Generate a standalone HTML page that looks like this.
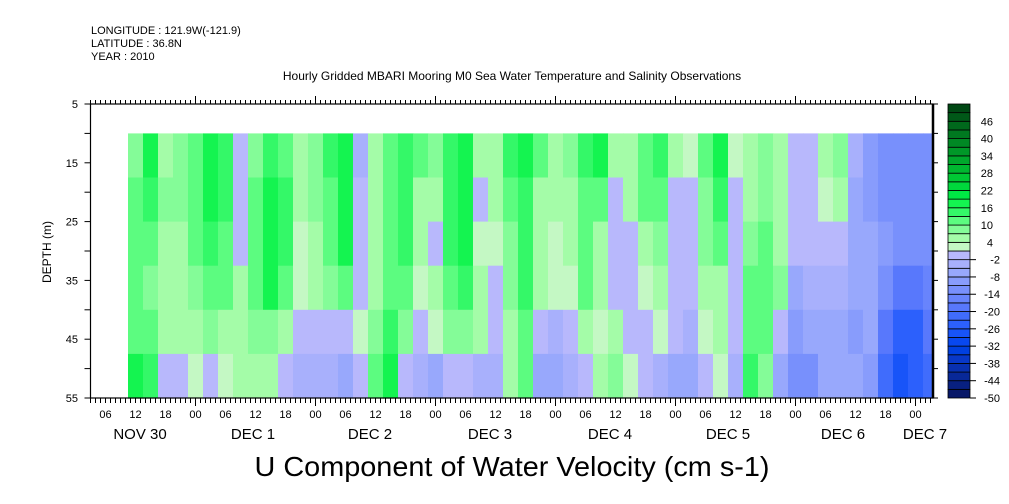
<!DOCTYPE html>
<html><head><meta charset="utf-8"><style>
html,body{margin:0;padding:0;background:#fff}
svg{display:block;font-family:"Liberation Sans",sans-serif}
</style></head><body>
<svg id="chart" width="1009" height="504" viewBox="0 0 1009 504" xmlns="http://www.w3.org/2000/svg">
<g font-size="11" fill="#000">
<text x="91" y="34">LONGITUDE : 121.9W(-121.9)</text>
<text x="91" y="47">LATITUDE : 36.8N</text>
<text x="91" y="60">YEAR : 2010</text>
</g>
<text x="512" y="80" font-size="12" text-anchor="middle">Hourly Gridded MBARI Mooring M0 Sea Water Temperature and Salinity Observations</text>
<g id="cells"></g>
<g id="axes"></g>
<g id="cbar"></g>
<text transform="translate(51,252) rotate(-90)" font-size="12" text-anchor="middle">DEPTH (m)</text>
<text x="512" y="476" font-size="28" text-anchor="middle" textLength="515" lengthAdjust="spacingAndGlyphs">U Component of Water Velocity (cm s-1)</text>
</svg>
<script>
// time of first column (hours since NOV 30 00:00) and column width in hours
const colStartHour = 10.5;
const colHours = 3;
const depthEdges = [10, 17.5, 25, 32.5, 40, 47.5, 55];
// U velocity (cm/s) per 3-hour column, rows top (shallow) to bottom (deep)
const uValues = [
[8,10,12,10,12,16],[16,14,12,8,10,14],[6,8,6,4,4,-1],[8,8,6,6,4,0],[12,12,10,8,6,2],
[16,16,14,10,8,0],[14,14,12,10,6,3],[-2,-2,-1,4,6,6],[8,10,10,12,8,4],[14,16,18,16,8,4],
[12,14,14,10,6,0],[6,4,2,2,-1,-4],[8,8,4,4,0,-4],[14,12,12,8,-1,-4],[16,18,18,12,0,-6],
[-3,-2,0,-1,2,0],[4,4,4,6,8,10],[12,12,10,10,14,16],[14,14,14,12,8,-2],[10,6,4,2,-2,-4],
[8,4,0,4,2,-6],[14,14,14,10,8,-2],[18,18,18,14,8,0],[4,-2,2,4,4,-3],[6,4,2,0,-2,-4],
[14,10,8,8,4,6],[16,14,14,14,10,12],[10,6,6,4,-2,-6],[6,4,2,2,-4,-8],[8,6,4,2,0,-4],
[14,10,10,10,4,0],[16,10,6,4,2,4],[4,-2,-2,-2,4,8],[6,6,0,-2,-1,2],[12,12,6,2,0,0],
[14,12,8,4,2,-4],[4,0,-2,-2,0,-6],[2,0,-2,-2,-4,-6],[12,8,8,4,2,0],[16,14,10,6,4,2],
[2,-2,-2,0,-2,-4],[6,6,8,12,12,14],[8,8,10,12,10,8],[4,4,6,8,-2,-8],[-2,-2,-2,-6,-10,-14],
[0,-2,-2,-4,-8,-12],[4,2,-2,-4,-6,-8],[8,4,0,-4,-8,-8],[-4,-6,-6,-8,-10,-8],[-10,-10,-8,-8,-6,-10],
[-12,-12,-10,-12,-18,-22],[-14,-12,-14,-18,-24,-28],[-14,-14,-14,-20,-24,-26],[-12,-12,-12,-16,-20,-22]
];
const dataEndHour = 171.5;
const depthTicks = [5, 15, 25, 35, 45, 55];
const hourLabels = ["06","12","18","00"];
const dayLabels = ["NOV 30","DEC  1","DEC  2","DEC  3","DEC  4","DEC  5","DEC  6","DEC 7"];
const cbarLabels = [46,40,34,28,22,16,10,4,-2,-8,-14,-20,-26,-32,-38,-44,-50];
const cbarMin = -50, cbarMax = 52, cbarStep = 3;

const NS = "http://www.w3.org/2000/svg";
const X0 = 90.5, PXH = 5.0, Y0 = 104, Y1 = 398, D0 = 5, D1 = 55, XR = 933;
const axisStartHour = 3;
const xS = h => X0 + (h - axisStartHour) * PXH;
const yS = d => Y0 + (d - D0) / (D1 - D0) * (Y1 - Y0);

const greens = ["#c4f8c4","#a4fca8","#84fc98","#5cfc80","#34f868","#14f450","#00e844","#00d83c","#00c834","#00b830","#00a82c","#009828","#008824","#007820","#00681c","#005818","#004814"];
const blues = ["#b8b8fc","#a8b0fc","#98a8fc","#889cfc","#7890fc","#6884fc","#5878fc","#406cfc","#2c60fc","#1854f8","#0848f0","#0040e0","#0838c8","#0830b0","#082898","#082080","#081868"];
function color(v){
  const k = Math.floor((v - 1) / cbarStep);
  if (k >= 0) return greens[Math.min(k, greens.length - 1)];
  return blues[Math.min(-k - 1, blues.length - 1)];
}
function el(tag, attrs, parent){
  const e = document.createElementNS(NS, tag);
  for (const k in attrs) e.setAttribute(k, attrs[k]);
  parent.appendChild(e);
  return e;
}
const cells = document.getElementById("cells");
uValues.forEach((col, i) => {
  const h0 = colStartHour + i * colHours;
  const h1 = (i === uValues.length - 1) ? dataEndHour : Math.min(h0 + colHours, dataEndHour);
  col.forEach((v, j) => {
    const r = el("rect", {x: xS(h0), y: yS(depthEdges[j]), width: xS(h1) - xS(h0) + 0.6, height: yS(depthEdges[j+1]) - yS(depthEdges[j]) + 0.6, fill: color(v)}, cells);
    
    
  });
});
const ax = document.getElementById("axes");
el("rect", {x: X0, y: Y0, width: XR - X0, height: Y1 - Y0, fill: "none", stroke: "#000", "stroke-width": 1.2}, ax);
el("line", {x1: XR, y1: Y0, x2: XR, y2: Y1, stroke: "#000", "stroke-width": 2.5}, ax);
for (let h = axisStartHour; h <= 171; h++) {
  const x = xS(h);
  if (x > XR) break;
  const major = h % 24 === 0;
  el("line", {x1: x, y1: Y0, x2: x, y2: Y0 - (major ? 8 : 4), stroke: "#000"}, ax);
  el("line", {x1: x, y1: Y1, x2: x, y2: Y1 + (major ? 8 : 5), stroke: "#000"}, ax);
  if (h % 6 === 0 && x > X0 + 5 && x < XR - 5) {
    const t = el("text", {x: x, y: 418, "font-size": 11, "text-anchor": "middle"}, ax);
    t.textContent = hourLabels[(h / 6 + 3) % 4];
    
    
  }
}
const dayPos = [140, 253, 370, 490, 610, 728, 843, 925];
dayLabels.forEach((s, i) => {
  const t = el("text", {x: dayPos[i], y: 439, "font-size": 15, "text-anchor": "middle", "xml:space": "preserve"}, ax);
  t.textContent = s;
  
  
});
for (let d = D0; d <= D1; d += 5) {
  const y = yS(d);
  el("line", {x1: X0, y1: y, x2: X0 - 6, y2: y, stroke: "#000"}, ax);
  el("line", {x1: XR, y1: y, x2: XR + 5, y2: y, stroke: "#000"}, ax);
}
depthTicks.forEach(d => {
  const t = el("text", {x: 78, y: yS(d) + 4, "font-size": 11, "text-anchor": "end"}, ax);
  t.textContent = d;
  
  
});
const cb = document.getElementById("cbar");
const CX = 948, CW = 22;
const cY = v => Y1 - (v - cbarMin) / (cbarMax - cbarMin) * (Y1 - Y0);
for (let v = cbarMin; v < cbarMax; v += cbarStep) {
  const r = el("rect", {x: CX, y: cY(v + cbarStep), width: CW, height: cY(v) - cY(v + cbarStep), fill: color(v + 1.5), stroke: "#000", "stroke-width": 0.8}, cb);
  
  
}
cbarLabels.forEach(v => {
  const y = cY(v);
  if (v < 0) el("line", {x1: CX + CW, y1: y, x2: CX + CW + 6, y2: y, stroke: "#000"}, cb);
  const t = el("text", {x: v < 0 ? 1000 : 993, y: y + 4, "font-size": 11, "text-anchor": "end"}, cb);
  t.textContent = v;
  
  
});
</script>
</body></html>
